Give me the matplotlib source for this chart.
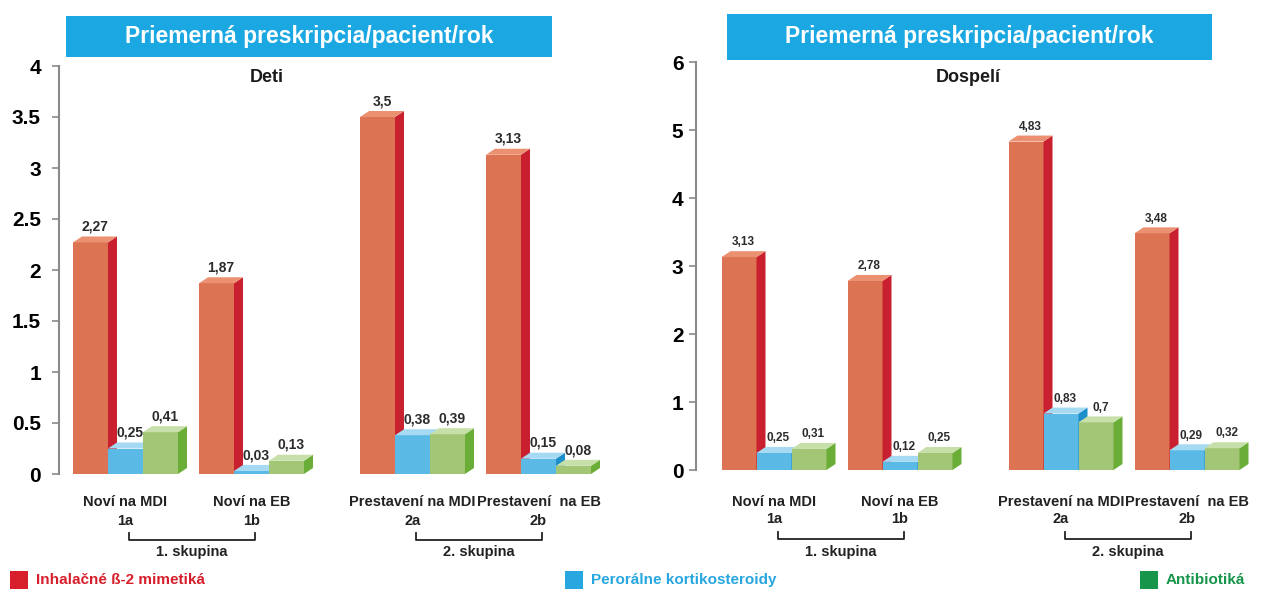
import numpy as np
import matplotlib.pyplot as plt
from matplotlib.patches import Polygon, Rectangle
import matplotlib.transforms as mtransforms

W, H = 1261, 591

categories = ['Noví na MDI', 'Noví na EB', 'Prestavení na MDI', 'Prestavení  na EB']
codes = ['1a', '1b', '2a', '2b']
groups = ['1. skupina', '2. skupina']
series = ['Inhalačné ß-2 mimetiká', 'Perorálne kortikosteroidy', 'Antibiotiká']

deti_beta = [2.27, 1.87, 3.5, 3.13]
deti_kort = [0.25, 0.03, 0.38, 0.15]
deti_anti = [0.41, 0.13, 0.39, 0.08]

dosp_beta = [3.13, 2.78, 4.83, 3.48]
dosp_kort = [0.25, 0.12, 0.83, 0.29]
dosp_anti = [0.31, 0.25, 0.7, 0.32]

deti_ticks = [0, 0.5, 1, 1.5, 2, 2.5, 3, 3.5, 4]
deti_ticklabels = ['0', '0.5', '1', '1.5', '2', '2.5', '3', '3.5', '4']
dosp_ticks = [0, 1, 2, 3, 4, 5, 6]
dosp_ticklabels = ['0', '1', '2', '3', '4', '5', '6']

box_title = 'Priemerná preskripcia/pacient/rok'

# group positions in bar widths, bars are 1 wide
pos = [0, 3.6, 8.2, 11.8]
BAR_PX = 35.0

# front, side, top colours per series
colors = [
    ('#dc7352', '#c8202e', '#eb9070'),
    ('#5bb9e6', '#1c8fcb', '#a6d9f2'),
    ('#a3c676', '#6aae38', '#c7dfa8'),
]
legend_colors = ['#d71f2c', '#27a6df', '#17954a']

SANS = ['Liberation Sans', 'DejaVu Sans']


def px_rect(x0, y0, x1, y1):
    return [x0 / W, 1 - y1 / H, (x1 - x0) / W, (y1 - y0) / H]


def bar3d(ax, x, h, col, dx, dy):
    front, side, top = col
    ax.bar([x], [h], width=1.0, color=front, linewidth=0, zorder=2)
    x0, x1 = x - 0.5, x + 0.5
    ax.add_patch(Polygon([(x1, 0), (x1, h), (x1 + dx, h + dy), (x1 + dx, dy)],
                         closed=True, facecolor=side, edgecolor='none', zorder=2))
    ax.add_patch(Polygon([(x0, h), (x1, h), (x1 + dx, h + dy), (x0 + dx, h + dy)],
                         closed=True, facecolor=top, edgecolor='none', zorder=2))


def panel(fig, rect_px, x_center_px, ymax, ticks, ticklabels, data, subtitle,
          box_px, sub_px, lab_size, row_y, tick_pad):
    x0p, y0p, x1p, y1p = rect_px
    ax = fig.add_axes(px_rect(*rect_px))
    ax.set_xlim((x0p - x_center_px) / BAR_PX, (x1p - x_center_px) / BAR_PX)
    ax.set_ylim(0, ymax)
    ypx = (y1p - y0p) / ymax
    dx = 9.0 / BAR_PX
    dy = 6.0 / ypx

    for i, g in enumerate(pos):
        for k in range(3):
            bar3d(ax, g - 1 + k, data[k][i], colors[k], dx, dy)
    for i, g in enumerate(pos):
        for k in range(3):
            v = data[k][i]
            ax.annotate(('%g' % v).replace('.', ','), xy=(g - 1 + k + dx / 2, v + dy),
                        xytext=(0, 2), textcoords='offset points', ha='center',
                        va='bottom', fontsize=lab_size, fontweight='bold',
                        color='#2b2b2b', family=SANS, zorder=5)

    for s in ['top', 'right', 'bottom']:
        ax.spines[s].set_visible(False)
    ax.spines['left'].set_color('#8a8a8a')
    ax.spines['left'].set_linewidth(1.5)
    ax.set_xticks([])
    ax.set_yticks(ticks)
    ax.set_yticklabels(ticklabels, fontsize=15, fontweight='bold', family=SANS)
    ax.tick_params(axis='y', length=5, width=1.2, color='#8a8a8a', pad=tick_pad)

    # category rows below the bars
    tr = mtransforms.blended_transform_factory(ax.transData, fig.transFigure)
    for i, g in enumerate(pos):
        ax.text(g, 1 - row_y[0] / H, categories[i], transform=tr, ha='center',
                va='center', fontsize=10.5, fontweight='bold', color='#222222',
                family=SANS)
        ax.text(g, 1 - row_y[1] / H, codes[i], transform=tr, ha='center',
                va='center', fontsize=10.5, fontweight='bold', color='#222222',
                family=SANS)
    for j in range(2):
        a, b = pos[2 * j] + 0.1, pos[2 * j + 1] + 0.1
        yb = 1 - row_y[2] / H
        yt = 1 - (row_y[2] - 7) / H
        ax.plot([a, a, b, b], [yt, yb, yb, yt], transform=tr, color='#222222',
                lw=1.3, clip_on=False)
        ax.text((a + b) / 2, 1 - row_y[3] / H, groups[j], transform=tr,
                ha='center', va='center', fontsize=10.5, fontweight='bold',
                color='#222222', family=SANS)

    bx0, by0, bx1, by1 = box_px
    fig.patches.append(Rectangle((bx0 / W, 1 - by1 / H), (bx1 - bx0) / W,
                                 (by1 - by0) / H, transform=fig.transFigure,
                                 facecolor='#1aa7e2', edgecolor='none'))
    fig.text((bx0 + bx1) / 2 / W, 1 - (by0 + by1) / 2 / H, box_title,
             ha='center', va='center', color='white', fontsize=16.5,
             fontweight='bold', family=SANS)
    fig.text(sub_px[0] / W, 1 - sub_px[1] / H, subtitle, ha='center',
             va='center', fontsize=13, fontweight='bold', color='#1a1a1a',
             family=SANS)
    return ax


def main():
    fig = plt.figure(figsize=(W / 100, H / 100), dpi=100)
    fig.patch.set_facecolor('white')

    panel(fig, (59, 66, 620, 474), 125.5, 4, deti_ticks, deti_ticklabels,
          [deti_beta, deti_kort, deti_anti], 'Deti',
          (66, 16, 552, 57), (267, 77), 10, (502, 521, 540, 552), 8)
    panel(fig, (696, 62, 1260, 470), 774, 6, dosp_ticks, dosp_ticklabels,
          [dosp_beta, dosp_kort, dosp_anti], 'Dospelí',
          (727, 14, 1212, 60), (968, 77), 8.5, (502, 519, 539, 552), 4)

    # legend row
    leg_x = [10, 565, 1140]
    for k in range(3):
        x = leg_x[k]
        fig.patches.append(Rectangle((x / W, 1 - 589 / H), 18 / W, 18 / H,
                                     transform=fig.transFigure,
                                     facecolor=legend_colors[k], edgecolor='none'))
        fig.text((x + 26) / W, 1 - 580 / H, series[k], ha='left', va='center',
                 fontsize=11, fontweight='bold', color=legend_colors[k],
                 family=SANS)

    fig.savefig('out.png', dpi=100)


if __name__ == "__main__":
    main()
